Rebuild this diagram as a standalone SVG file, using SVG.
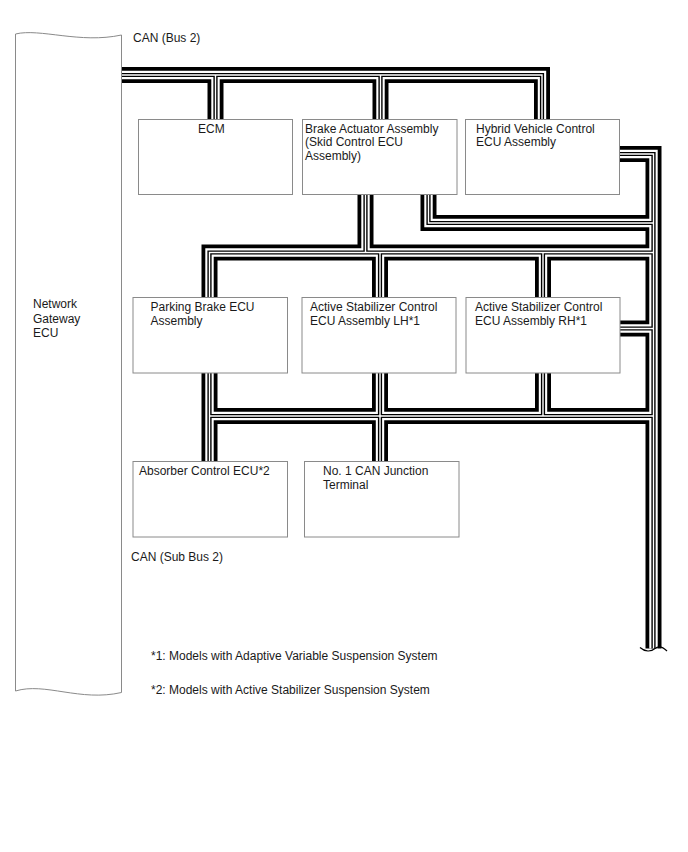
<svg xmlns="http://www.w3.org/2000/svg" xmlns:xlink="http://www.w3.org/1999/xlink" width="688" height="852" viewBox="0 0 688 852">
<style>
  .box{fill:#fff;stroke:#8a8a8a;stroke-width:1}
  text{font-family:"Liberation Sans",Arial,sans-serif;font-size:12px;fill:#1a1a1a}
  #connectors{fill:none;stroke-linejoin:miter;stroke-linecap:butt}
  .l1{stroke:#000;stroke-width:16}
  .l2{stroke:#fff;stroke-width:8.4}
  .l3{stroke:#000;stroke-width:4.2}
  .l4{stroke:#fff;stroke-width:1.4}
  .end{fill:none;stroke:#000;stroke-width:1.2}
</style>
<defs>
  <path id="c-top" d="M122 75 H542 V120"/>
  <path id="c-ecm" d="M215.5 75 V120"/>
  <path id="c-brk" d="M380.5 75 V120"/>
  <path id="c-hyb-v" d="M619 154 H653.5 V648.5"/>
  <path id="c-brk-v" d="M428.5 194 V223 H653.5"/>
  <path id="c-h2" d="M209.5 298 V252.5 H653.5"/>
  <path id="c-brk-h2" d="M365.5 194 V252.5"/>
  <path id="c-lh" d="M380 252.5 V298"/>
  <path id="c-rh" d="M543 252.5 V298"/>
  <path id="c-rh-v" d="M619 328.5 H653.5"/>
  <path id="c-pk-abs" d="M209.5 372 V462"/>
  <path id="c-h3" d="M209.5 416 H653.5"/>
  <path id="c-lh-can" d="M380 372 V462"/>
  <path id="c-rh-h3" d="M543 372 V416"/>
</defs>

<rect x="0" y="0" width="688" height="852" fill="#fff"/>

<g id="n-gateway">
  <path class="box" d="M15.5 34 C40 28, 80 44, 121.5 35 V692.5 C80 702, 45 682, 15.5 691 Z"/>
  <text x="33" y="308">Network</text>
  <text x="33" y="322.5">Gateway</text>
  <text x="33" y="337">ECU</text>
</g>

<g id="connectors">
  <g class="l1">
    <use href="#c-top"/><use href="#c-ecm"/><use href="#c-brk"/><use href="#c-hyb-v"/><use href="#c-brk-v"/><use href="#c-h2"/><use href="#c-brk-h2"/><use href="#c-lh"/><use href="#c-rh"/><use href="#c-rh-v"/><use href="#c-pk-abs"/><use href="#c-h3"/><use href="#c-lh-can"/><use href="#c-rh-h3"/>
  </g>
  <g class="l2">
    <use href="#c-top"/><use href="#c-ecm"/><use href="#c-brk"/><use href="#c-hyb-v"/><use href="#c-brk-v"/><use href="#c-h2"/><use href="#c-brk-h2"/><use href="#c-lh"/><use href="#c-rh"/><use href="#c-rh-v"/><use href="#c-pk-abs"/><use href="#c-h3"/><use href="#c-lh-can"/><use href="#c-rh-h3"/>
  </g>
  <g class="l3">
    <use href="#c-top"/><use href="#c-ecm"/><use href="#c-brk"/><use href="#c-hyb-v"/><use href="#c-brk-v"/><use href="#c-h2"/><use href="#c-brk-h2"/><use href="#c-lh"/><use href="#c-rh"/><use href="#c-rh-v"/><use href="#c-pk-abs"/><use href="#c-h3"/><use href="#c-lh-can"/><use href="#c-rh-h3"/>
  </g>
  <g class="l4">
    <use href="#c-top"/><use href="#c-ecm"/><use href="#c-brk"/><use href="#c-hyb-v"/><use href="#c-brk-v"/><use href="#c-h2"/><use href="#c-brk-h2"/><use href="#c-lh"/><use href="#c-rh"/><use href="#c-rh-v"/><use href="#c-pk-abs"/><use href="#c-h3"/><use href="#c-lh-can"/><use href="#c-rh-h3"/>
  </g>
  <path class="end" d="M640 647.5 C645 652, 651 652, 655 648.5 C659 645, 663 647, 667 651"/>
</g>

<g id="n-ecm">
  <rect class="box" x="138.5" y="119.5" width="154" height="75"/>
  <text x="198" y="132.5">ECM</text>
</g>
<g id="n-brake">
  <rect class="box" x="302.5" y="119.5" width="154.5" height="75"/>
  <text x="305" y="132.5">Brake Actuator Assembly</text>
  <text x="305" y="146">(Skid Control ECU</text>
  <text x="305" y="159.5">Assembly)</text>
</g>
<g id="n-hybrid">
  <rect class="box" x="465.5" y="119.5" width="154" height="75"/>
  <text x="476" y="132.5">Hybrid Vehicle Control</text>
  <text x="476" y="146">ECU Assembly</text>
</g>
<g id="n-parking">
  <rect class="box" x="133" y="297.5" width="154.5" height="75.5"/>
  <text x="150.5" y="311">Parking Brake ECU</text>
  <text x="150.5" y="324.5">Assembly</text>
</g>
<g id="n-stab-lh">
  <rect class="box" x="302" y="297.5" width="154" height="75.5"/>
  <text x="310" y="311">Active Stabilizer Control</text>
  <text x="310" y="324.5">ECU Assembly LH*1</text>
</g>
<g id="n-stab-rh">
  <rect class="box" x="466" y="297.5" width="154" height="75.5"/>
  <text x="475" y="311">Active Stabilizer Control</text>
  <text x="475" y="324.5">ECU Assembly RH*1</text>
</g>
<g id="n-absorber">
  <rect class="box" x="133" y="461.5" width="154.5" height="75.5"/>
  <text x="139" y="475">Absorber Control ECU*2</text>
</g>
<g id="n-junction">
  <rect class="box" x="304.5" y="461.5" width="154.5" height="75.5"/>
  <text x="323" y="475">No. 1 CAN Junction</text>
  <text x="323" y="488.5">Terminal</text>
</g>

<g id="labels">
  <text x="133" y="42">CAN (Bus 2)</text>
  <text x="131" y="561">CAN (Sub Bus 2)</text>
  <text x="151" y="660">*1: Models with Adaptive Variable Suspension System</text>
  <text x="151" y="694">*2: Models with Active Stabilizer Suspension System</text>
</g>
</svg>
